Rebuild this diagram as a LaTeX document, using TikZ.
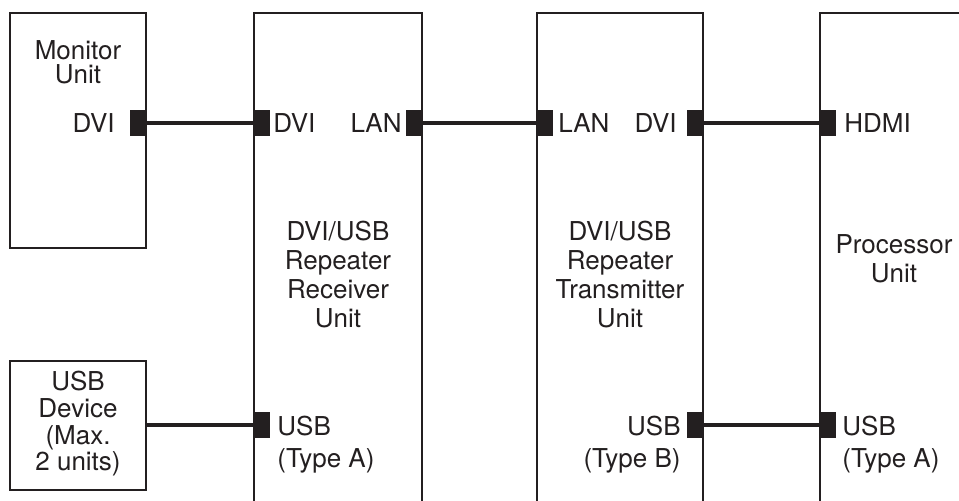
\documentclass[tikz,border=0pt]{standalone}
\usepackage{fontspec}
\setmainfont{TeX Gyre Heros}
\usepackage{xcolor}
\usetikzlibrary{positioning}
\definecolor{ink}{HTML}{231F20}

\begin{document}
\begin{tikzpicture}[
        x=0.5pt, y=-0.5pt,
        color=ink,
        font=\fontsize{13}{14.5}\selectfont,
        unit/.style={rectangle, draw=ink, line width=1pt, inner sep=0pt, outer sep=0pt, anchor=north west},
        port/.style={rectangle, fill=ink, inner sep=0pt, outer sep=0pt, minimum width=8pt, minimum height=13pt},
        cable/.style={draw=ink, line width=2.3pt},
        plbl/.style={inner sep=0pt},
        usblbl/.style={inner sep=0pt, font=\fontsize{13}{16}\selectfont},
        unitlbl/.style={inner sep=0pt, align=center, anchor=north}
    ]
    \useasboundingbox (0,0) rectangle (959,501);
    \clip (0,0) rectangle (959,501);

    % 1. Cac khoi thiet bi
    \node[unit, minimum width=68pt, minimum height=117.5pt] (mon) at (10,13) {};
    \node[unit, minimum width=68pt, minimum height=64.5pt] (usbdev) at (10,361) {};
    \node[unit, minimum width=84pt, minimum height=260pt] (rx) at (254,13) {};
    \node[unit, minimum width=83pt, minimum height=260pt] (tx) at (537,13) {};
    \node[unit, minimum width=80pt, minimum height=260pt] (proc) at (820,13) {};

    % Ten cac khoi
    \node[unitlbl, font=\fontsize{13}{12}\selectfont] (monName) at (78,40) {Monitor\\Unit};
    \node[unitlbl, font=\fontsize{13}{13.3}\selectfont] (usbName) at (78,371) {USB\\Device\\(Max.\\2 units)};
    \node[unitlbl] (rxName) at (rx.north |- 0,221) {DVI/USB\\Repeater\\Receiver\\Unit};
    \node[unitlbl] (txName) at (tx.north |- 0,221) {DVI/USB\\Repeater\\Transmitter\\Unit};
    \node[unitlbl] (procName) at (894,234) {Processor\\Unit};

    % 2. Cac cong ket noi (o vuong den)
    \node[port, anchor=east] (monDVI) at (mon.east |- 0,123) {};
    \node[port, anchor=west] (rxDVI) at (rx.west |- 0,123) {};
    \node[port, anchor=east] (rxLAN) at (rx.east |- 0,123) {};
    \node[port, anchor=west] (txLAN) at (tx.west |- 0,123) {};
    \node[port, anchor=east] (txDVI) at (tx.east |- 0,123) {};
    \node[port, anchor=west] (procHDMI) at (proc.west |- 0,123) {};
    \node[port, anchor=west] (rxUSB) at (rx.west |- 0,425) {};
    \node[port, anchor=east] (txUSB) at (tx.east |- 0,425) {};
    \node[port, anchor=west] (procUSB) at (proc.west |- 0,425) {};

    % Nhan cong
    \node[plbl, left=7.5pt of monDVI] (monDVIlbl) {DVI};
    \node[plbl, right=1.5pt of rxDVI] (rxDVIlbl) {DVI};
    \node[plbl, left=2pt of rxLAN] (rxLANlbl) {LAN};
    \node[plbl, right=2.5pt of txLAN] (txLANlbl) {LAN};
    \node[plbl, left=5pt of txDVI] (txDVIlbl) {DVI};
    \node[plbl, right=4pt of procHDMI] (procHDMIlbl) {HDMI};
    \node[usblbl, align=left, anchor=north west] (rxUSBlbl) at ([xshift=3.5pt, yshift=4.7pt]rxUSB.east) {USB\\(Type A)};
    \node[usblbl, align=right, anchor=north east] (txUSBlbl) at ([xshift=-3pt, yshift=4.7pt]txUSB.west) {USB\\(Type B)};
    \node[usblbl, align=left, anchor=north west] (procUSBlbl) at ([xshift=3pt, yshift=4.7pt]procUSB.east) {USB\\(Type A)};

    % 3. Day cap
    \draw[cable] (monDVI) -- (rxDVI);
    \draw[cable] (rxLAN) -- (txLAN);
    \draw[cable] (txDVI) -- (procHDMI);
    \draw[cable] (txUSB) -- (procUSB);
    \draw[cable] (usbdev.east |- rxUSB) -- (rxUSB);

\end{tikzpicture}
\end{document}
